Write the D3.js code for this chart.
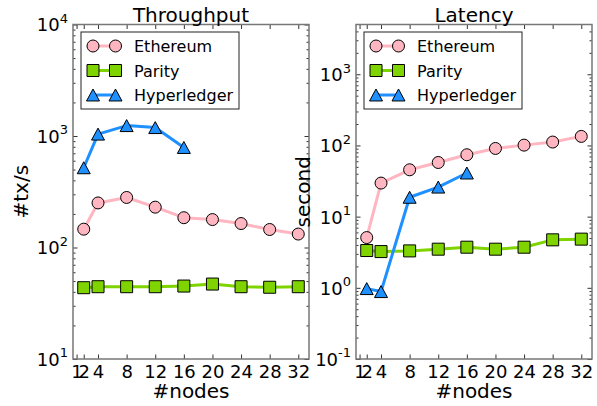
<!DOCTYPE html>
<html>
<head>
<meta charset="utf-8">
<script src="https://cdn.jsdelivr.net/npm/d3@7"></script>
<style>
    html, body { margin: 0; padding: 0; background: #fff; }
    text { font-family: 'DejaVu Sans', sans-serif; }
</style>
</head>
<body>
<div id="container"></div>
<script>
// x values (number of nodes)
const nodes = [2, 4, 8, 12, 16, 20, 24, 28, 32];
const hlNodes = [2, 4, 8, 12, 16];
const nodeTicks = [1, 2, 4, 8, 12, 16, 20, 24, 28, 32];

// throughput, tx/s
const throughputEthereum = [146, 251, 281, 230, 185, 178, 164, 145, 132];
const throughputParity = [43.6, 44.5, 44.5, 44.5, 45.1, 47, 44.5, 44, 44.5];
const throughputHyperledger = [519, 1040, 1240, 1190, 789];

// latency, seconds
const latencyEthereum = [5.08, 29.6, 45.5, 57.6, 74, 90.7, 101, 111.6, 134];
const latencyParity = [3.34, 3.23, 3.3, 3.49, 3.72, 3.49, 3.72, 4.72, 4.83];
const latencyHyperledger = [0.975, 0.885, 18.7, 26, 41];

const seriesNames = ['Ethereum', 'Parity', 'Hyperledger'];
const throughputTicks = [10, 100, 1000, 10000];
const latencyTicks = [0.1, 1, 10, 100, 1000];

const W = 597, H = 406;
const plotTop = 24.5, plotBottom = 359;
const zip = (xs, ys) => xs.map((x, i) => [x, ys[i]]);

const style = {
    Ethereum: { color: '#ffb6c1', fill: '#ffb6c1', shape: 'circle' },
    Parity: { color: '#7fd400', fill: '#7fd400', shape: 'square' },
    Hyperledger: { color: '#1e90ff', fill: '#1e90ff', shape: 'triangle' }
};

const triangle = {
    draw(ctx, size) {
        const w = Math.sqrt(size), h = w * 0.92;
        ctx.moveTo(0, -h / 2);
        ctx.lineTo(w / 2, h / 2);
        ctx.lineTo(-w / 2, h / 2);
        ctx.closePath();
    }
};
const symbolFor = {
    circle: d3.symbol(d3.symbolCircle, Math.PI * 36),
    square: d3.symbol(d3.symbolSquare, 144),
    triangle: d3.symbol(triangle, 169)
};

const panels = [
    {
        title: 'Throughput', ylabel: '#tx/s', x0: 73, x1: 309, ylabelX: 28,
        domain: [10, 10000], ticks: throughputTicks,
        series: [
            ['Ethereum', zip(nodes, throughputEthereum)],
            ['Parity', zip(nodes, throughputParity)],
            ['Hyperledger', zip(hlNodes, throughputHyperledger)]
        ]
    },
    {
        title: 'Latency', ylabel: 'second', x0: 356, x1: 592, ylabelX: 309.5,
        domain: [0.1, 5000], ticks: latencyTicks,
        series: [
            ['Ethereum', zip(nodes, latencyEthereum)],
            ['Parity', zip(nodes, latencyParity)],
            ['Hyperledger', zip(hlNodes, latencyHyperledger)]
        ]
    }
];

const svg = d3.select('#container')
    .append('svg')
    .attr('width', W)
    .attr('height', H);

const minorTicks = domain => {
    const out = [];
    const lo = Math.floor(Math.log10(domain[0])), hi = Math.ceil(Math.log10(domain[1]));
    for (let e = lo; e < hi; e++) {
        for (let k = 2; k < 10; k++) {
            const v = k * Math.pow(10, e);
            if (v > domain[0] && v < domain[1]) out.push(v);
        }
    }
    return out;
};

const styleAxis = g => {
    g.select('.domain').remove();
    g.selectAll('.tick line').attr('stroke', '#333').attr('stroke-width', 1);
    g.selectAll('text').attr('fill', '#000').attr('font-family', "'DejaVu Sans', sans-serif");
};

panels.forEach(p => {
    const x = d3.scaleLinear().domain([0.5, 33.5]).range([p.x0, p.x1]);
    const y = d3.scaleLog().domain(p.domain).range([plotBottom, plotTop]);
    const g = svg.append('g');

    // minor ticks, left and right
    g.append('g').attr('transform', `translate(${p.x0},0)`)
        .call(d3.axisLeft(y).tickValues(minorTicks(p.domain)).tickSize(-2.5).tickSizeOuter(0).tickFormat(''))
        .call(styleAxis);
    g.append('g').attr('transform', `translate(${p.x1},0)`)
        .call(d3.axisRight(y).tickValues(minorTicks(p.domain)).tickSize(-2.5).tickSizeOuter(0).tickFormat(''))
        .call(styleAxis);

    // major y ticks with 10^n labels
    g.append('g').attr('transform', `translate(${p.x0},0)`)
        .call(d3.axisLeft(y).tickValues(p.ticks).tickSize(-4.5).tickSizeOuter(0).tickPadding(5).tickFormat(''))
        .call(styleAxis)
        .call(a => a.selectAll('.tick text')
            .attr('font-size', 18)
            .attr('dy', '0.36em')
            .each(function (d) {
                const t = d3.select(this);
                t.append('tspan').text('10');
                t.append('tspan')
                    .attr('font-size', 13)
                    .attr('dy', -8.5)
                    .text(String(Math.round(Math.log10(d))));
            }));
    g.append('g').attr('transform', `translate(${p.x1},0)`)
        .call(d3.axisRight(y).tickValues(p.ticks).tickSize(-4.5).tickSizeOuter(0).tickFormat(''))
        .call(styleAxis);

    // x ticks, bottom and top
    g.append('g').attr('transform', `translate(0,${plotBottom})`)
        .call(d3.axisBottom(x).tickValues(nodeTicks).tickSize(-4.5).tickSizeOuter(0).tickPadding(6).tickFormat(d3.format('d')))
        .call(styleAxis)
        .call(a => a.selectAll('.tick text').attr('font-size', 18));
    g.append('g').attr('transform', `translate(0,${plotTop})`)
        .call(d3.axisTop(x).tickValues(nodeTicks).tickSize(-4.5).tickSizeOuter(0).tickFormat(''))
        .call(styleAxis);

    // frame
    g.append('rect')
        .attr('x', p.x0)
        .attr('y', plotTop)
        .attr('width', p.x1 - p.x0)
        .attr('height', plotBottom - plotTop)
        .attr('fill', 'none')
        .attr('stroke', '#777')
        .attr('stroke-width', 1.5);

    // series
    const line = d3.line().x(d => x(d[0])).y(d => y(d[1]));
    p.series.forEach(([name, pts]) => {
        const s = style[name];
        g.append('path')
            .datum(pts)
            .attr('d', line)
            .attr('fill', 'none')
            .attr('stroke', s.color)
            .attr('stroke-width', 3)
            .attr('stroke-linejoin', 'round');
        g.selectAll(null)
            .data(pts)
            .enter()
            .append('path')
            .attr('d', symbolFor[s.shape])
            .attr('transform', d => `translate(${x(d[0])},${y(d[1])})`)
            .attr('fill', s.fill)
            .attr('stroke', '#000')
            .attr('stroke-width', 1);
    });

    // titles and labels
    const cx = (p.x0 + p.x1) / 2;
    g.append('text')
        .attr('x', cx)
        .attr('y', 21.5)
        .attr('text-anchor', 'middle')
        .attr('font-size', 20)
        .text(p.title);
    g.append('text')
        .attr('x', cx)
        .attr('y', 398)
        .attr('text-anchor', 'middle')
        .attr('font-size', 20)
        .text('#nodes');
    g.append('text')
        .attr('transform', `translate(${p.ylabelX},${(plotTop + plotBottom) / 2}) rotate(-90)`)
        .attr('text-anchor', 'middle')
        .attr('font-size', 20)
        .text(p.ylabel);

    // legend
    const lg = g.append('g').attr('transform', `translate(${p.x0 + 8},${plotTop + 7.5})`);
    lg.append('rect')
        .attr('width', 158)
        .attr('height', 77)
        .attr('fill', '#fff')
        .attr('stroke', '#222')
        .attr('stroke-width', 1);
    seriesNames.forEach((name, i) => {
        const s = style[name];
        const yy = 14 + i * 24.5;
        lg.append('line')
            .attr('x1', 12).attr('x2', 34.5)
            .attr('y1', yy).attr('y2', yy)
            .attr('stroke', s.color)
            .attr('stroke-width', 3);
        [12, 34.5].forEach(mx => lg.append('path')
            .attr('d', symbolFor[s.shape])
            .attr('transform', `translate(${mx},${yy})`)
            .attr('fill', s.fill)
            .attr('stroke', '#000')
            .attr('stroke-width', 1));
        lg.append('text')
            .attr('x', 53)
            .attr('y', yy + 6)
            .attr('font-size', 16)
            .text(name);
    });
});
</script>
</body>
</html>
